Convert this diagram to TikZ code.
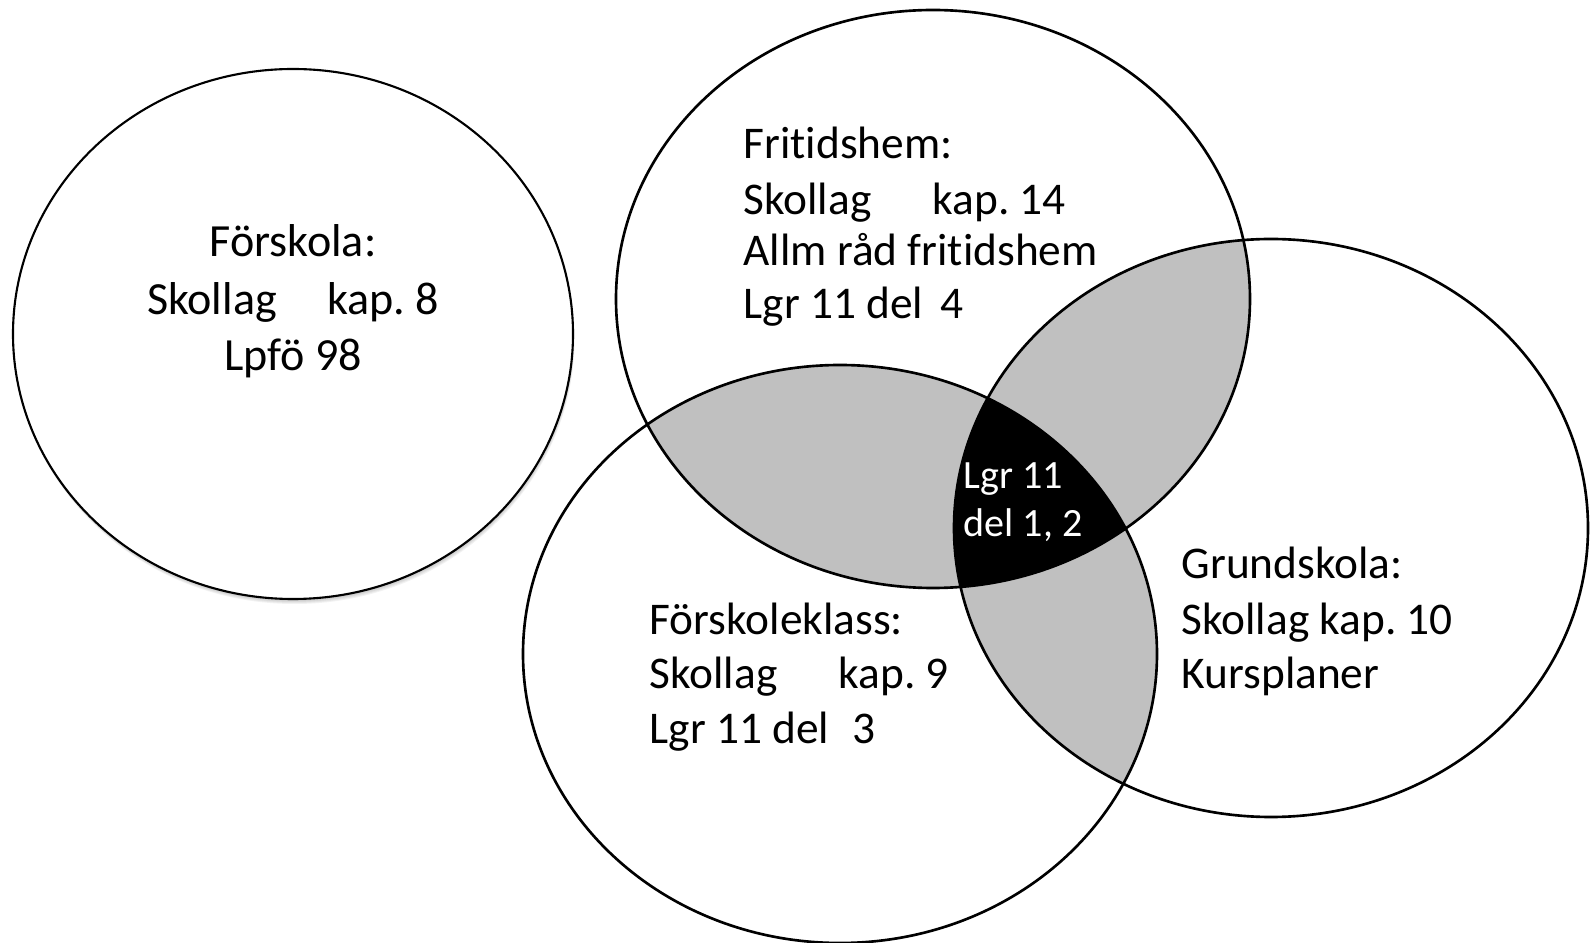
\documentclass[tikz,border=0pt]{standalone}
\usepackage{fontspec}
\setmainfont{Carlito}[Ligatures=CommonOff]
\usetikzlibrary{positioning}
\frenchspacing

\definecolor{lensgray}{RGB}{192,192,192}

\tikzset{
  vennradii/.style = {x radius=317, y radius=289},
  vennline/.style = {draw=black, line width=0.75pt},
  lens/.style = {fill=lensgray},
  txt/.style = {inner sep=0pt, anchor=base west,
                font=\fontsize{12.9}{15}\selectfont},
  fsktxt/.style = {inner sep=0pt, anchor=base,
                   font=\fontsize{13.1}{16}\selectfont},
  midtxt/.style = {inner sep=0pt, anchor=base west, text=white,
                   font=\fontsize{11.4}{13.5}\selectfont}
}

\begin{document}
\begin{tikzpicture}[x=0.01cm, y=-0.01cm]

    \useasboundingbox (0,0) rectangle (1596,943);

    % centres of the four sets
    \coordinate (fsk) at (293,334);
    \coordinate (fri) at (933,299);
    \coordinate (skl) at (840,654);
    \coordinate (grs) at (1271,528);

    % Förskola, with a soft shadow
    \foreach \d in {1,...,5}
        \fill[black, opacity=0.05] (fsk) ++(0.3*\d,\d) ellipse [x radius=280, y radius=265];
    \filldraw[fill=white, line width=0.6pt] (fsk) ellipse [x radius=280, y radius=265];

    % overlaps of two sets
    \begin{scope}
        \clip (fri) ellipse [vennradii];
        \fill[lens] (skl) ellipse [vennradii];
        \fill[lens] (grs) ellipse [vennradii];
    \end{scope}
    \begin{scope}
        \clip (skl) ellipse [vennradii];
        \fill[lens] (grs) ellipse [vennradii];
    \end{scope}

    % overlap of all three
    \begin{scope}
        \clip (fri) ellipse [vennradii];
        \clip (skl) ellipse [vennradii];
        \fill[black] (grs) ellipse [vennradii];
    \end{scope}

    \draw[vennline] (fri) ellipse [vennradii];
    \draw[vennline] (skl) ellipse [vennradii];
    \draw[vennline] (grs) ellipse [vennradii];

    % Förskola
    \node[fsktxt] (fsk1) at (293,257) {Förskola:};
    \node[fsktxt] (fsk2) at (293,315) {\makebox[1.8cm][l]{Skollag}kap. 8};
    \node[fsktxt] (fsk3) at (293,371) {Lpfö 98};

    % Fritidshem
    \node[txt] (fri1) at (743,159) {Fritidshem:};
    \node[txt] (fri2) at (743,215) {\makebox[1.89cm][l]{Skollag}kap. 14};
    \node[txt] (fri3) at (743,266) {Allm råd fritidshem};
    \node[txt] (fri4) at (743,319) {\makebox[1.97cm][l]{Lgr 11 del}4};

    % Förskoleklass
    \node[txt] (skl1) at (649,635) {Förskoleklass:};
    \node[txt] (skl2) at (649,689) {\makebox[1.89cm][l]{Skollag}kap. 9};
    \node[txt] (skl3) at (649,744) {\makebox[2.03cm][l]{Lgr 11 del}3};

    % Grundskola
    \node[txt] (grs1) at (1181,579) {Grundskola:};
    \node[txt] (grs2) at (1181,635) {Skollag kap. 10};
    \node[txt] (grs3) at (1181,689) {Kursplaner};

    % gemensamt
    \node[midtxt] (mid1) at (963,489) {Lgr 11};
    \node[midtxt] (mid2) at (963,537) {del 1, 2};

\end{tikzpicture}
\end{document}
